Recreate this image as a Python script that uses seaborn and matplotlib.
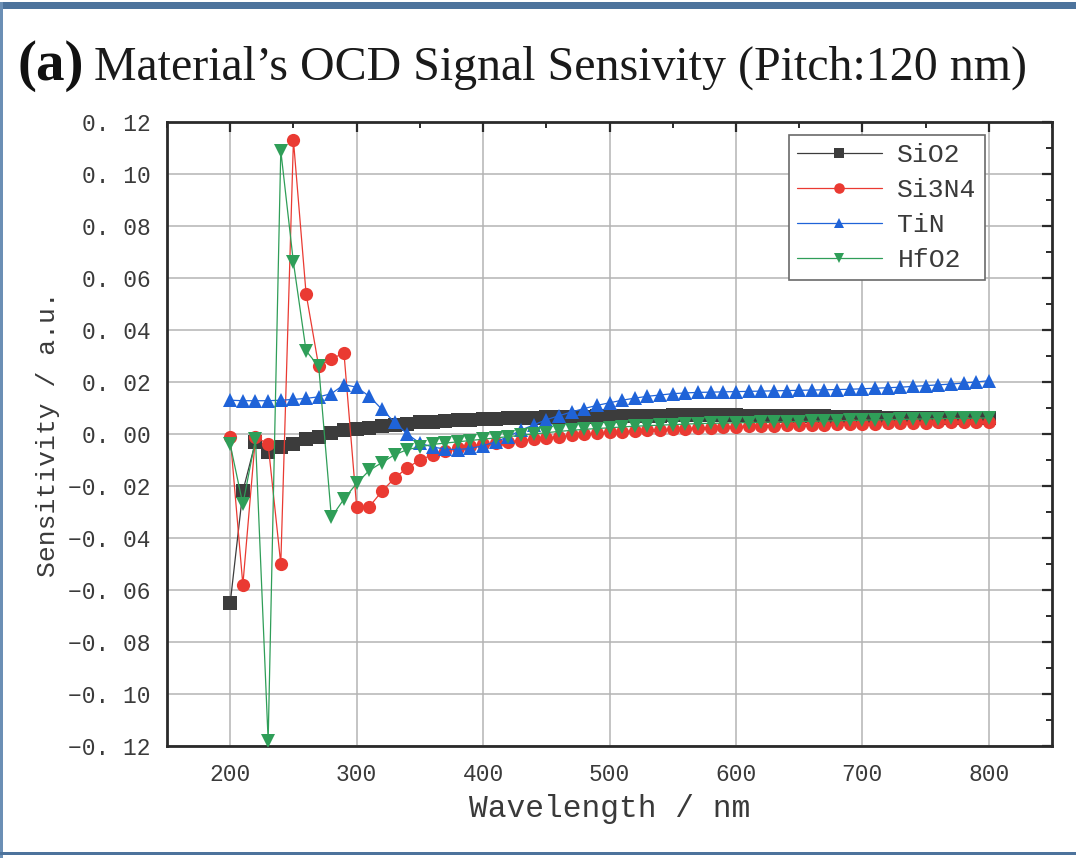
import matplotlib
matplotlib.use("Agg")
import matplotlib.pyplot as plt
import pandas as pd
import seaborn as sns
from matplotlib.ticker import FixedLocator, FixedFormatter, MultipleLocator
from matplotlib.patches import Rectangle

# ---- data -------------------------------------------------------------
wavelength = list(range(200, 801, 10))

sio2 = [-0.065, -0.022, -0.003, -0.007, -0.005, -0.004, -0.002, -0.001, 0.0005, 0.0015,
        0.002, 0.0025, 0.003, 0.0035, 0.004, 0.0045, 0.0048, 0.005, 0.0053, 0.0055,
        0.0057, 0.0058, 0.006, 0.0062, 0.0063, 0.0064, 0.0065, 0.0066, 0.0067, 0.0068,
        0.0069, 0.007, 0.007, 0.0071, 0.0071, 0.0072, 0.0072, 0.0072, 0.0072, 0.0072,
        0.0072, 0.0071, 0.0071, 0.007, 0.007, 0.0069, 0.0068, 0.0068, 0.0067, 0.0066,
        0.0065, 0.0064, 0.0063, 0.0062, 0.0062, 0.0061, 0.0061, 0.006, 0.006, 0.006,
        0.006]

si3n4 = [-0.001, -0.058, -0.001, -0.004, -0.050, 0.113, 0.054, 0.026, 0.029, 0.031,
         -0.028, -0.028, -0.022, -0.017, -0.013, -0.010, -0.008, -0.0065, -0.0055, -0.0045,
         -0.004, -0.0035, -0.003, -0.0025, -0.002, -0.0015, -0.001, -0.0005, 0.0, 0.0003,
         0.0006, 0.0009, 0.0012, 0.0015, 0.0017, 0.0019, 0.0021, 0.0023, 0.0025, 0.0027,
         0.0028, 0.003, 0.0031, 0.0032, 0.0033, 0.0034, 0.0035, 0.0036, 0.0037, 0.0038,
         0.0039, 0.004, 0.0041, 0.0042, 0.0043, 0.0044, 0.0045, 0.0045, 0.0046, 0.0047,
         0.0048]

tin = [0.013, 0.0128, 0.0128, 0.0128, 0.013, 0.0133, 0.0137, 0.0143, 0.0155, 0.019,
       0.018, 0.0145, 0.0095, 0.0045, 0.0, -0.0035, -0.005, -0.0058, -0.006, -0.0055,
       -0.0045, -0.003, -0.001, 0.0015, 0.0035, 0.0055, 0.007, 0.0085, 0.0098, 0.011,
       0.012, 0.013, 0.0138, 0.0145, 0.015, 0.0155, 0.0158, 0.016, 0.0161, 0.0162,
       0.0163, 0.0164, 0.0165, 0.0166, 0.0167, 0.0168, 0.0169, 0.017, 0.0171, 0.0172,
       0.0174, 0.0176, 0.0178, 0.018, 0.0183, 0.0186, 0.0189, 0.0192, 0.0196, 0.0200,
       0.0205]

hfo2 = [-0.004, -0.027, -0.002, -0.118, 0.109, 0.066, 0.032, 0.026, -0.032, -0.025,
        -0.019, -0.014, -0.011, -0.008, -0.006, -0.005, -0.004, -0.0035, -0.003, -0.0025,
        -0.002, -0.0015, -0.001, -0.0005, 0.0, 0.0005, 0.001, 0.0014, 0.0018, 0.0021,
        0.0024, 0.0027, 0.003, 0.0032, 0.0034, 0.0036, 0.0038, 0.004, 0.0041, 0.0042,
        0.0043, 0.0044, 0.0045, 0.0046, 0.0047, 0.0048, 0.0049, 0.005, 0.0051, 0.0052,
        0.0053, 0.0054, 0.0055, 0.0056, 0.0057, 0.0058, 0.0059, 0.006, 0.006, 0.0061,
        0.0062]

materials = ["SiO2", "Si3N4", "TiN", "HfO2"]
series = [sio2, si3n4, tin, hfo2]

x_ticks = [200, 300, 400, 500, 600, 700, 800]
y_ticks = [-0.12, -0.10, -0.08, -0.06, -0.04, -0.02, 0.00, 0.02, 0.04, 0.06, 0.08, 0.10, 0.12]
y_tick_labels = ["\u22120. 12", "\u22120. 10", "\u22120. 08", "\u22120. 06", "\u22120. 04",
                 "\u22120. 02", "0. 00", "0. 02", "0. 04", "0. 06", "0. 08", "0. 10", "0. 12"]

# ---- long-form table --------------------------------------------------
frames = [pd.DataFrame({"Wavelength": wavelength, "Sensitivity": vals, "Material": name})
          for name, vals in zip(materials, series)]
df = pd.concat(frames, ignore_index=True)

palette = {"SiO2": "#3c3c3c", "Si3N4": "#ea3a32", "TiN": "#1f63d8", "HfO2": "#2f9e58"}
markers = {"SiO2": "s", "Si3N4": "o", "TiN": "^", "HfO2": "v"}

sns.set_theme(style="white")
mono = ["Liberation Mono", "DejaVu Sans Mono"]
serif = ["Liberation Serif", "DejaVu Serif"]

fig = plt.figure(figsize=(10.76, 8.58), dpi=100)
fig.patch.set_facecolor("white")
ax = fig.add_axes([167 / 1076, 1 - 746 / 858, (1052 - 167) / 1076, (746 - 122) / 858])

sns.lineplot(data=df, x="Wavelength", y="Sensitivity", hue="Material", style="Material",
             hue_order=materials, style_order=materials, palette=palette,
             markers=markers, dashes=False, linewidth=0.9, markersize=9.5,
             markeredgewidth=0, ax=ax, legend=True, zorder=3)

ax.set_xlim(150, 850)
ax.set_ylim(-0.12, 0.12)
ax.xaxis.set_major_locator(FixedLocator(x_ticks))
ax.xaxis.set_minor_locator(MultipleLocator(50))
ax.yaxis.set_major_locator(FixedLocator(y_ticks))
ax.yaxis.set_major_formatter(FixedFormatter(y_tick_labels))
ax.yaxis.set_minor_locator(MultipleLocator(0.01))

ax.grid(True, which="major", color="#b4b4b4", linewidth=1.1, zorder=0)
ax.set_axisbelow(True)

for side in ["left", "right", "top", "bottom"]:
    ax.spines[side].set_visible(True)
    ax.spines[side].set_color("#2a2a2a")
    ax.spines[side].set_linewidth(2.0)

ax.tick_params(axis="both", which="major", direction="out", length=7, width=1.6,
               color="#2a2a2a", labelsize=16.5, labelcolor="#3a3a3a", pad=5)
ax.tick_params(axis="both", which="minor", direction="out", length=4, width=1.4,
               color="#2a2a2a")
ax.tick_params(top=True, right=True, which="both", labeltop=False, labelright=False)
# ticks on the top and right edges point inward
for tl in ax.xaxis.get_ticklines(minor=False)[1::2] + ax.xaxis.get_ticklines(minor=True)[1::2]:
    tl.set_marker(3)
for tl in ax.yaxis.get_ticklines(minor=False)[1::2] + ax.yaxis.get_ticklines(minor=True)[1::2]:
    tl.set_marker(0)

for lab in ax.get_xticklabels() + ax.get_yticklabels():
    lab.set_family(mono)

ax.set_xlabel("Wavelength / nm", family=mono, fontsize=22.5, color="#3a3a3a", labelpad=6)
ax.set_ylabel("Sensitivity / a.u.", family=mono, fontsize=19, color="#3a3a3a", labelpad=6)

handles, labels = ax.get_legend_handles_labels()
leg = ax.legend(handles, labels, loc="upper right", bbox_to_anchor=(0.924, 0.979),
                prop={"family": mono, "size": 19}, frameon=True, fancybox=False,
                edgecolor="#6a6a6a", framealpha=1, handlelength=3.2, handletextpad=0.6,
                borderpad=0.3, labelspacing=0.42, borderaxespad=0.0, markerscale=0.8)
leg.get_frame().set_linewidth(1.2)
for txt in leg.get_texts():
    txt.set_color("#3a3a3a")

# title
fig.text(18 / 1076, 1 - 66 / 858, "(a)", family=serif, fontsize=41, fontweight="bold",
         va="center", ha="left", color="#111111")
fig.text(94 / 1076, 1 - 68 / 858, "Material\u2019s OCD Signal Sensivity (Pitch:120 nm)",
         family=serif, fontsize=34.5, va="center", ha="left", color="#1a1a1a")

# frame around the panel
frame_col = "#4d739c"
fig.patches.append(Rectangle((0, 1 - 9 / 858), 1, 7 / 858, transform=fig.transFigure,
                             facecolor=frame_col, edgecolor="none"))
fig.patches.append(Rectangle((0, 0), 2.5 / 1076, 1 - 2 / 858, transform=fig.transFigure,
                             facecolor="#6b8fb5", edgecolor="none"))
fig.patches.append(Rectangle((0, 3 / 858), 1, 3.5 / 858, transform=fig.transFigure,
                             facecolor=frame_col, edgecolor="none"))

fig.savefig("out.png", dpi=100, facecolor="white")
